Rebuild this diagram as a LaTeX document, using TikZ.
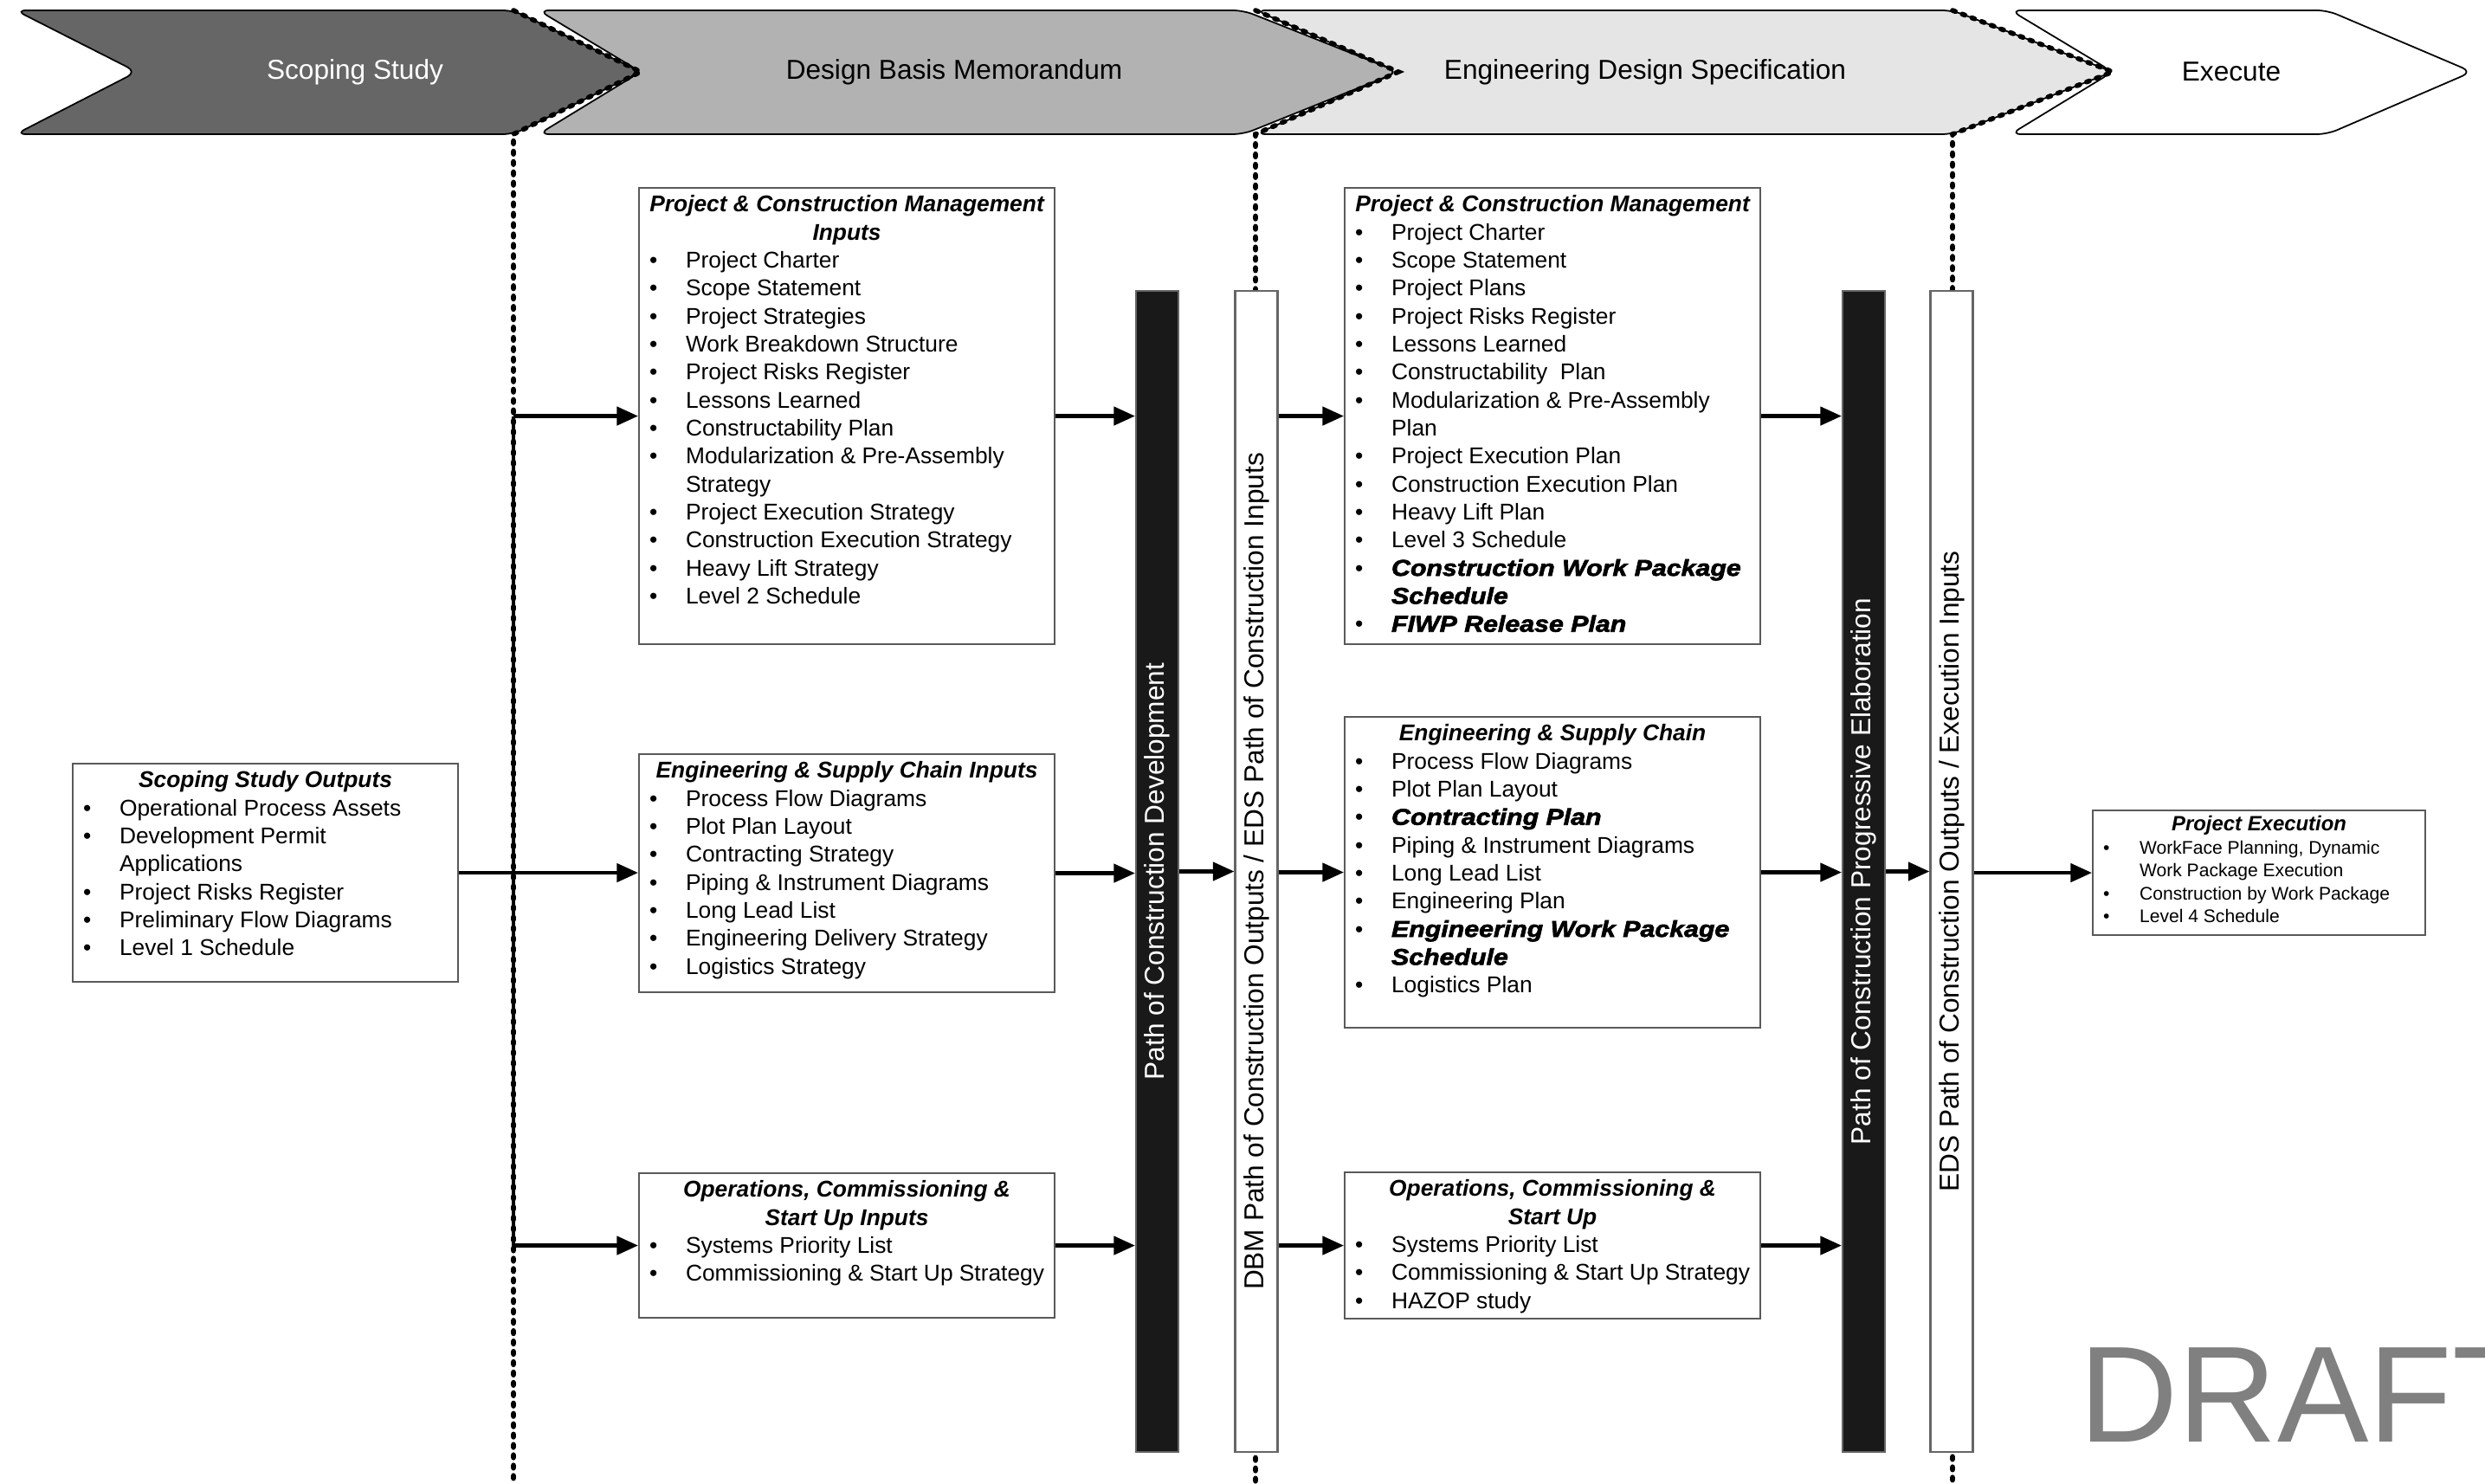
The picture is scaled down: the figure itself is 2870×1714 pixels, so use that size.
\documentclass[tikz,border=0pt]{standalone}
\usepackage{fontspec}
\setmainfont{Liberation Sans}
\newfontfamily\heavyfont[BoldItalicFeatures={FakeBold=2.5,FakeStretch=1.15}]{Liberation Sans}
\usepackage{graphicx}
\usepackage{xcolor}
\usetikzlibrary{arrows.meta}

\definecolor{scopegray}{HTML}{666666}
\definecolor{dbmgray}{HTML}{B2B2B2}
\definecolor{edsgray}{HTML}{E5E5E5}

% box text helpers
\newcommand{\cardbody}[3]{\parbox[t][\dimexpr#2-1mm\relax][t]{\dimexpr#1-2.4mm\relax}{\raggedright #3}}
\newcommand{\cardtitle}[1]{{\centering\bfseries\itshape\strut #1\par}}
\newcommand{\itm}[1]{\hangindent=4.2mm\hangafter=1\noindent\makebox[4.2mm][l]{\textbullet}{#1}\par}
\newcommand{\heavy}{\heavyfont\bfseries\itshape}

\begin{document}
\begin{tikzpicture}[
		x=0.1mm, y=-0.1mm,
		% Styles
		card/.style={draw=black!65, line width=0.6pt, fill=white, anchor=north west, inner xsep=1.2mm, inner ysep=0.5mm, font=\fontsize{7.5pt}{9.2pt}\selectfont},
		smallcard/.style={card, font=\fontsize{6pt}{7.55pt}\selectfont},
		bar/.style={draw=black!60, line width=0.6pt, fill=white, minimum width=4.9mm, minimum height=134.1mm, inner sep=0pt, font=\fontsize{9pt}{10pt}\selectfont},
		darkbar/.style={bar, fill=black!90, text=white},
		phase/.style={draw=black, line width=0.5pt, rounded corners=1.2mm},
		phaselabel/.style={inner sep=0pt, font=\fontsize{9pt}{10pt}\selectfont},
		gate/.style={line width=1.6pt, dash pattern=on 1pt off 2.4pt, line cap=round},
		link/.style={line width=1.2pt},
		arrow/.style={->, >={Triangle[length=7pt,width=6pt]}, line width=1.2pt}
	]
	\useasboundingbox (0,0) rectangle (2870,1714);

	% --- Phase chevrons ---
	\filldraw[phase, fill=white] (2322,12) -- (2688,12) -- (2855,83) -- (2688,155) -- (2322,155) -- (2440,83) -- cycle;
	\filldraw[phase, fill=edsgray] (1450,12) -- (2255,12) -- (2440,83) -- (2255,155) -- (1450,155) -- (1615,83) -- cycle;
	\filldraw[phase, fill=dbmgray] (622,12) -- (1436,12) -- (1615,83) -- (1436,155) -- (622,155) -- (740,83) -- cycle;
	\filldraw[phase, fill=scopegray] (18,12) -- (593,12) -- (740,83) -- (593,155) -- (18,155) -- (158,83) -- cycle;

	\node[phaselabel, text=white] (scopelbl) at (410,83) {Scoping Study};
	\node[phaselabel] (dbmlbl) at (1102,83) {Design Basis Memorandum};
	\node[phaselabel] (edslbl) at (1900,83) {Engineering Design Specification};
	\node[phaselabel] (execlbl) at (2577,83) {Execute};

	% --- Phase gates ---
	\draw[gate] (593,12) -- (740,83) -- (593,155) -- (593,1714);
	\draw[gate] (1450,12) -- (1615,83) -- (1450,155) -- (1450,1714);
	\draw[gate] (2255,12) -- (2440,83) -- (2255,155) -- (2255,1714);

	% --- Scoping study ---
	\node[card] (ssout) at (83,881) {\cardbody{44.5mm}{25.2mm}{%
		\cardtitle{Scoping Study Outputs}
		\itm{Operational Process Assets}
		\itm{Development Permit\newline Applications}
		\itm{Project Risks Register}
		\itm{Preliminary Flow Diagrams}
		\itm{Level 1 Schedule}}};

	% --- DBM inputs ---
	\node[card] (dbmpcm) at (737,216) {\cardbody{48mm}{52.7mm}{%
		\cardtitle{Project \& Construction Management\\Inputs}
		\itm{Project Charter}
		\itm{Scope Statement}
		\itm{Project Strategies}
		\itm{Work Breakdown Structure}
		\itm{Project Risks Register}
		\itm{Lessons Learned}
		\itm{Constructability Plan}
		\itm{Modularization \& Pre-Assembly\newline Strategy}
		\itm{Project Execution Strategy}
		\itm{Construction Execution Strategy}
		\itm{Heavy Lift Strategy}
		\itm{Level 2 Schedule}}};
	\node[card] (dbmesc) at (737,870) {\cardbody{48mm}{27.5mm}{%
		\cardtitle{Engineering \& Supply Chain Inputs}
		\itm{Process Flow Diagrams}
		\itm{Plot Plan Layout}
		\itm{Contracting Strategy}
		\itm{Piping \& Instrument Diagrams}
		\itm{Long Lead List}
		\itm{Engineering Delivery Strategy}
		\itm{Logistics Strategy}}};
	\node[card] (dbmocs) at (737,1354) {\cardbody{48mm}{16.7mm}{%
		\cardtitle{Operations, Commissioning \&\\Start Up Inputs}
		\itm{Systems Priority List}
		\itm{Commissioning \& Start Up Strategy}}};

	% --- Path bars ---
	\node[darkbar] (pocd) at (1336.5,1006.5) {\rotatebox{90}{Path of Construction Development}};
	\node[bar] (dbmout) at (1451,1006.5) {\rotatebox{90}{DBM Path of Construction Outputs / EDS Path of Construction Inputs}};
	\node[darkbar] (poce) at (2152.5,1006.5) {\rotatebox{90}{Path of Construction Progressive Elaboration}};
	\node[bar] (edsout) at (2254,1006.5) {\rotatebox{90}{EDS Path of Construction Outputs / Execution Inputs}};

	% --- EDS inputs ---
	\node[card] (edspcm) at (1552,216) {\cardbody{48mm}{52.7mm}{%
		\cardtitle{Project \& Construction Management}
		\itm{Project Charter}
		\itm{Scope Statement}
		\itm{Project Plans}
		\itm{Project Risks Register}
		\itm{Lessons Learned}
		\itm{Constructability\ \ Plan}
		\itm{Modularization \& Pre-Assembly\newline Plan}
		\itm{Project Execution Plan}
		\itm{Construction Execution Plan}
		\itm{Heavy Lift Plan}
		\itm{Level 3 Schedule}
		\itm{\heavy Construction Work Package\newline Schedule}
		\itm{\heavy FIWP Release Plan}}};
	\node[card] (edsesc) at (1552,827) {\cardbody{48mm}{35.9mm}{%
		\cardtitle{Engineering \& Supply Chain}
		\itm{Process Flow Diagrams}
		\itm{Plot Plan Layout}
		\itm{\heavy Contracting Plan}
		\itm{Piping \& Instrument Diagrams}
		\itm{Long Lead List}
		\itm{Engineering Plan}
		\itm{\heavy Engineering Work Package\newline Schedule}
		\itm{Logistics Plan}}};
	\node[card] (edsocs) at (1552,1353) {\cardbody{48mm}{16.9mm}{%
		\cardtitle{Operations, Commissioning \&\\Start Up}
		\itm{Systems Priority List}
		\itm{Commissioning \& Start Up Strategy}
		\itm{HAZOP study}}};

	% --- Execution ---
	\node[smallcard] (pexec) at (2416,935) {\cardbody{38.4mm}{14.4mm}{%
		\cardtitle{\fontsize{6.8pt}{7.55pt}\selectfont Project Execution}
		\itm{WorkFace Planning, Dynamic\newline Work Package Execution}
		\itm{Construction by Work Package}
		\itm{Level 4 Schedule}}};

	% --- Watermark ---
	\begin{scope}
		\clip (0,0) rectangle (2870,1714);
		\node[anchor=base west, inner sep=0pt, text=black!50, font=\fontsize{45pt}{45pt}\selectfont] (draft) at (2401,1665) {DRAFT};
	\end{scope}

	% --- ARROWS ---
	% Scoping outputs into DBM
	\coordinate (trunk) at (593,1007);
	\draw[link] (trunk |- dbmpcm.west) -- (trunk |- dbmocs.west);
	\draw[arrow] (ssout.east) -- (ssout.east -| dbmesc.west);
	\draw[arrow] (trunk |- dbmpcm.west) -- (dbmpcm.west);
	\draw[arrow] (trunk |- dbmocs.west) -- (dbmocs.west);

	% DBM inputs into path of construction
	\draw[arrow] (dbmpcm.east) -- (dbmpcm.east -| pocd.west);
	\draw[arrow] (dbmesc.east) -- (dbmesc.east -| pocd.west);
	\draw[arrow] (dbmocs.east) -- (dbmocs.east -| pocd.west);
	\draw[arrow] (pocd.east) -- (dbmout.west);

	% DBM outputs into EDS
	\draw[arrow] (dbmout.east |- edspcm.west) -- (edspcm.west);
	\draw[arrow] (dbmout.east |- edsesc.west) -- (edsesc.west);
	\draw[arrow] (dbmout.east |- edsocs.west) -- (edsocs.west);

	% EDS inputs into progressive elaboration
	\draw[arrow] (edspcm.east) -- (edspcm.east -| poce.west);
	\draw[arrow] (edsesc.east) -- (edsesc.east -| poce.west);
	\draw[arrow] (edsocs.east) -- (edsocs.east -| poce.west);
	\draw[arrow] (poce.east) -- (edsout.west);

	% Execution
	\draw[arrow] (edsout.east |- pexec.west) -- (pexec.west);

\end{tikzpicture}
\end{document}
